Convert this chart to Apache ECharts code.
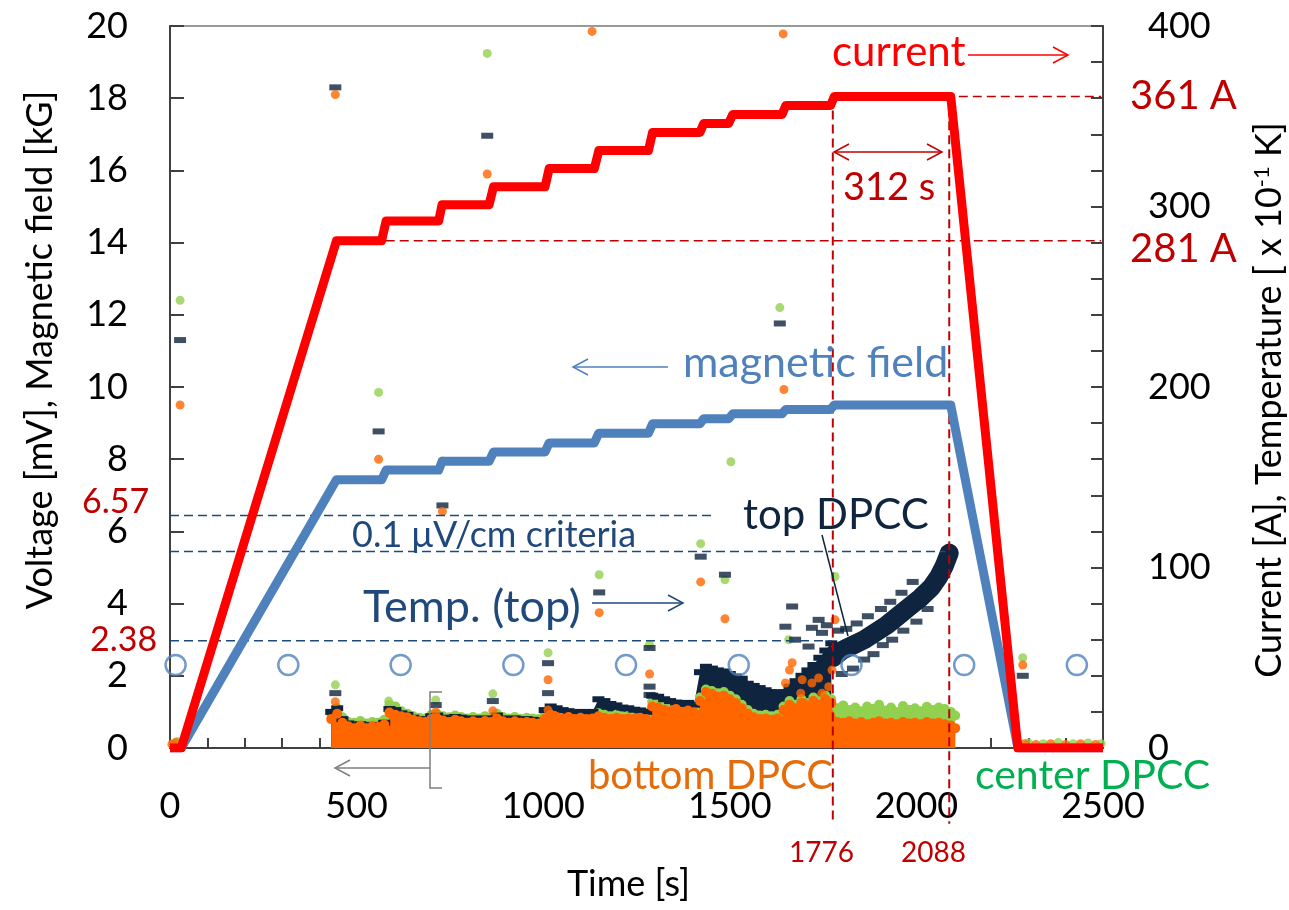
<!DOCTYPE html>
<html>
<head>
<meta charset="utf-8">
<title>DPCC excitation test</title>
<script src="https://cdn.jsdelivr.net/npm/echarts@6/dist/echarts.min.js"></script>
</head>
<body style="margin:0;background:#fff">
<div id="main" style="width:1289px;height:910px;"></div>
<script type="text/javascript">
// ---- coil current / magnetic field (staircase) ----
var timeS    = [0, 30, 446, 567, 579, 720, 729, 855, 867, 1005, 1016, 1137, 1149, 1282, 1293, 1420, 1430, 1497, 1508, 1640, 1650, 1770, 1780, 2092, 2272, 2500];
var currentA = [0, 0, 281, 281, 292, 292, 301, 301, 311, 311, 321, 321, 331, 331, 341, 341, 346, 346, 351, 351, 356, 356, 361, 361, 0, 0];
var fieldKG  = [0, 0, 7.43, 7.43, 7.70, 7.70, 7.94, 7.94, 8.20, 8.20, 8.45, 8.45, 8.72, 8.72, 8.98, 8.98, 9.12, 9.12, 9.26, 9.26, 9.38, 9.38, 9.50, 9.50, 0, 0];

// ---- temperature (top), x 0.1 K ----
var tempT = [15, 317, 618, 920, 1222, 1524, 1826, 2128, 2430];
var tempV = [46, 46, 46, 46, 46, 46, 46, 46, 46];

// ---- DPCC voltage bands (upper envelope of the dense point cloud) ----
var bandT = [432, 448, 462, 478, 494, 510, 526, 542, 558, 574,
             588, 604, 620, 636, 652, 668, 684, 700, 716, 732,
             748, 764, 780, 796, 812, 828, 844, 860, 876, 892,
             908, 924, 940, 956, 972, 988, 1004, 1020, 1036, 1052,
             1068, 1084, 1100, 1116, 1132, 1148, 1164, 1180, 1196, 1212,
             1228, 1244, 1260, 1276, 1292, 1308, 1324, 1340, 1356, 1372,
             1388, 1404, 1420, 1436, 1452, 1468, 1484, 1500, 1516, 1532,
             1548, 1564, 1580, 1596, 1612, 1628, 1644, 1660, 1676, 1692,
             1708, 1724, 1740, 1756, 1772, 1788, 1804, 1820, 1836, 1852,
             1868, 1884, 1900, 1916, 1932, 1948, 1964, 1980, 1996, 2012,
             2028, 2044, 2060, 2076, 2092, 2104];
var bottomTop = [0.80, 0.95, 0.70, 0.60, 0.55, 0.62, 0.55, 0.60, 0.58, 0.65,
                 0.98, 0.92, 0.88, 0.85, 0.78, 0.74, 0.72, 0.80, 0.82, 0.76,
                 0.72, 0.78, 0.74, 0.70, 0.74, 0.70, 0.75, 0.72, 0.82, 0.74,
                 0.70, 0.74, 0.70, 0.72, 0.70, 0.68, 0.80, 0.92, 0.86, 0.82,
                 0.86, 0.80, 0.84, 0.80, 0.82, 0.88, 0.84, 0.80, 0.84, 0.80,
                 0.82, 0.80, 0.84, 0.80, 1.15, 1.12, 1.05, 1.02, 1.08, 1.00,
                 1.04, 0.98, 1.30, 1.55, 1.50, 1.42, 1.45, 1.35, 1.25, 1.10,
                 0.95, 0.85, 0.80, 0.82, 0.78, 0.82, 1.05, 1.20, 1.10, 1.25,
                 1.15, 1.30, 1.20, 1.35, 1.25, 0.72, 0.70, 0.74, 0.68, 0.72,
                 0.66, 0.70, 0.74, 0.68, 0.70, 0.66, 0.72, 0.68, 0.70, 0.66,
                 0.72, 0.68, 0.70, 0.66, 0.62, 0.55];
var centerTop = [0.95, 1.10, 0.85, 0.72, 0.70, 0.75, 0.68, 0.72, 0.70, 0.78,
                 1.20, 1.15, 1.02, 0.95, 0.88, 0.84, 0.82, 0.92, 0.94, 0.88,
                 0.85, 0.90, 0.86, 0.82, 0.86, 0.82, 0.88, 0.84, 0.95, 0.86,
                 0.82, 0.86, 0.80, 0.84, 0.82, 0.80, 0.92, 1.00, 0.96, 0.92,
                 0.95, 0.90, 0.92, 0.88, 0.90, 0.96, 0.92, 0.88, 0.92, 0.88,
                 0.90, 0.88, 0.92, 0.88, 1.28, 1.24, 1.15, 1.12, 1.18, 1.10,
                 1.14, 1.08, 1.40, 1.62, 1.58, 1.52, 1.55, 1.45, 1.35, 1.20,
                 1.05, 0.95, 0.90, 0.92, 0.88, 0.92, 1.15, 1.30, 1.20, 1.35,
                 1.25, 1.40, 1.30, 1.45, 1.35, 1.10, 1.18, 1.05, 1.12, 1.02,
                 1.15, 1.08, 1.20, 1.04, 1.12, 1.00, 1.16, 1.06, 1.10, 1.02,
                 1.14, 1.05, 1.12, 1.08, 1.00, 0.90];
var topTop    = [1.00, 1.10, 0.80, 0.68, 0.62, 0.66, 0.60, 0.64, 0.62, 0.70,
                 1.08, 1.05, 0.96, 0.92, 0.84, 0.80, 0.78, 0.88, 0.90, 0.84,
                 0.80, 0.86, 0.84, 0.78, 0.82, 0.78, 0.82, 0.80, 0.90, 0.82,
                 0.78, 0.82, 0.78, 0.80, 0.78, 0.76, 1.05, 1.15, 1.10, 1.05,
                 1.02, 0.98, 1.00, 0.98, 1.00, 1.35, 1.30, 1.22, 1.18, 1.12,
                 1.10, 1.06, 1.04, 1.00, 1.45, 1.42, 1.35, 1.30, 1.26, 1.22,
                 1.25, 1.20, 2.10, 2.25, 2.20, 2.15, 2.12, 2.05, 1.98, 1.92,
                 1.78, 1.72, 1.66, 1.60, 1.55, 1.52, 1.55, 1.70, 1.85, 2.00,
                 2.15, 2.30, 2.50, 2.70, 2.90];

// top DPCC rising branch after the flat-top starts
var riseT = [1776, 1800, 1830, 1860, 1890, 1920, 1950, 1980, 2010, 2040, 2060, 2075, 2088];
var riseV = [2.50, 2.70, 2.85, 3.00, 3.20, 3.40, 3.65, 3.90, 4.15, 4.45, 4.75, 5.05, 5.40];

// ---- isolated points ----
var centerPts = [[8, 0.12], [20, 0.18], [27, 12.4], [443, 1.75], [559, 9.85], [586, 1.30], [712, 1.33], [730, 7.95],
                 [850, 19.24], [865, 1.50], [1013, 2.64], [1150, 4.80], [1285, 2.86], [1422, 5.66], [1487, 4.66],
                 [1503, 7.93], [1634, 12.2], [1658, 3.00], [1782, 4.75], [2285, 2.50],
                 [2300, 0.14], [2340, 0.12], [2380, 0.15], [2420, 0.12], [2460, 0.14], [2495, 0.12]];
var topPts    = [[27, 11.3], [443, 18.3], [443, 1.52], [559, 8.77], [712, 1.19], [730, 6.72], [850, 16.96], [865, 1.30],
                 [1013, 2.35], [1013, 1.52], [1150, 4.31], [1285, 2.77], [1285, 1.70], [1285, 1.47], [1422, 5.30],
                 [1487, 4.80], [1634, 11.76], [1649, 3.36], [1667, 3.92], [1675, 3.00], [1711, 2.81], [1720, 3.33],
                 [1738, 3.55], [1747, 3.19], [1760, 3.40], [2285, 2.00],
                 [1790, 3.25], [1812, 3.30], [1840, 3.45], [1800, 2.05], [1830, 2.20], [1860, 2.45], [1885, 2.60],
                 [1910, 2.85], [1935, 3.00], [1870, 3.65], [1905, 3.85], [1930, 4.05], [1960, 4.30], [1990, 4.60],
                 [1965, 3.25], [2000, 3.50], [2030, 3.85]];
var bottomPts = [[5, 0.10], [15, 0.15], [27, 9.5], [443, 18.1], [443, 1.28], [559, 8.0], [712, 1.00], [730, 6.55],
                 [850, 15.9], [865, 1.03], [1013, 1.89], [1013, 1.05], [1131, 19.85], [1150, 3.75], [1285, 2.05],
                 [1422, 4.60], [1487, 3.58], [1643, 19.78], [1645, 9.93], [1649, 1.80], [1667, 2.36], [1660, 2.16],
                 [1690, 1.52], [1694, 1.89], [1700, 1.25], [1720, 1.80], [1738, 1.94], [1747, 1.52], [1765, 1.70],
                 [1774, 2.16], [1711, 0.97], [1782, 3.55], [2285, 2.30],
                 [2290, 0.12], [2320, 0.10], [2360, 0.12], [2400, 0.10], [2440, 0.12], [2480, 0.10]];

// ---- reference lines ----
var criteriaV   = [6.44, 5.44, 2.97];
var criteriaEnd = [1452, 2078, 1774];
var holdT       = [1776, 2088];
var holdTop     = [18.05, 17.75];
var levelA      = [361, 281];
var levelStart  = [1776, 578];

function pairs(ts, vs) {
    return vs.map(function (v, i) { return [ts[i], v]; });
}

var FONT = 'Lato';
var NAVY = '#0F243E';

var series = [];

// dense bands: green behind, navy, orange in front
function band(data, color, symbol, size) {
    return {
        type: 'line', data: data, symbol: symbol, symbolSize: size, showAllSymbol: true,
        lineStyle: {opacity: 0}, itemStyle: {color: color},
        areaStyle: {color: color, opacity: 1}, silent: true, z: 2
    };
}
series.push(band(pairs(bandT, centerTop), '#92D050', 'circle', 10));
series.push(band(pairs(bandT, topTop), NAVY, 'rect', [12, 6]));
series.push(band(pairs(bandT, bottomTop), '#FF6600', 'circle', 10));

// rising top DPCC branch
series.push({
    type: 'line', data: pairs(riseT, riseV), symbol: 'none',
    lineStyle: {color: NAVY, width: 19, cap: 'round', join: 'round'}, silent: true, z: 2
});

series.push({type: 'scatter', data: centerPts, symbol: 'circle', symbolSize: 9, itemStyle: {color: '#92D050'}, silent: true, z: 3});
series.push({type: 'scatter', data: topPts, symbol: 'rect', symbolSize: [12, 6], itemStyle: {color: NAVY}, silent: true, z: 3});
series.push({type: 'scatter', data: bottomPts, symbol: 'circle', symbolSize: 9, itemStyle: {color: '#FF6600'}, silent: true, z: 3});

// criteria lines
criteriaV.forEach(function (v, i) {
    series.push({
        type: 'line', data: [[0, v], [criteriaEnd[i], v]], symbol: 'none', silent: true, z: 4,
        lineStyle: {color: '#1F497D', width: 1.5, type: [9, 5]}
    });
});
// flat-top start / end markers (run below the axis to their labels)
holdT.forEach(function (t, i) {
    series.push({
        type: 'line', data: [[t, holdTop[i]], [t, -2.1]], symbol: 'none', silent: true, clip: false, z: 4,
        lineStyle: {color: '#C00000', width: 2, type: [9, 5]}
    });
});
levelA.forEach(function (a, i) {
    series.push({
        type: 'line', yAxisIndex: 1, data: [[levelStart[i], a], [2495, a]], symbol: 'none', silent: true, z: 4,
        lineStyle: {color: '#C00000', width: 1.5, type: [9, 5]}
    });
});

// temperature
series.push({
    type: 'scatter', yAxisIndex: 1, data: pairs(tempT, tempV), symbol: 'circle', symbolSize: 20,
    itemStyle: {color: 'rgba(0,0,0,0)', borderColor: '#4F81BD', borderWidth: 2.5}, silent: true, z: 5
});

// magnetic field and current
series.push({
    type: 'line', data: pairs(timeS, fieldKG), symbol: 'none', silent: true, z: 6,
    lineStyle: {color: '#4F81BD', width: 9, join: 'round'}
});
series.push({
    type: 'line', yAxisIndex: 1, data: pairs(timeS, currentA), symbol: 'none', silent: true, z: 7,
    lineStyle: {color: '#FF0000', width: 9, join: 'round'}
});

// ---- annotations ----
function arrow(x1, y1, x2, y2, color, w, both) {
    var dx = x2 - x1, dy = y2 - y1, len = Math.sqrt(dx * dx + dy * dy);
    var ux = dx / len, uy = dy / len, nx = -uy, ny = ux, L = 15, W = 8;
    var els = [{type: 'line', shape: {x1: x1, y1: y1, x2: x2, y2: y2}, style: {stroke: color, lineWidth: w}}];
    els.push({type: 'polyline', shape: {points: [[x2 - ux * L + nx * W, y2 - uy * L + ny * W], [x2, y2], [x2 - ux * L - nx * W, y2 - uy * L - ny * W]]},
              style: {stroke: color, lineWidth: w, fill: null}});
    if (both) {
        els.push({type: 'polyline', shape: {points: [[x1 + ux * L + nx * W, y1 + uy * L + ny * W], [x1, y1], [x1 + ux * L - nx * W, y1 + uy * L - ny * W]]},
                  style: {stroke: color, lineWidth: w, fill: null}});
    }
    return els;
}
function label(text, x, y, size, color, align) {
    return {type: 'text', x: x, y: y, style: {text: text, fontFamily: FONT, fontSize: size, fill: color,
            align: align || 'left', verticalAlign: 'middle'}};
}

var graphics = [].concat(
    [label('current', 832, 52, 42, '#FF0000')],
    arrow(968, 55, 1068, 55, '#FF0000', 1.5),
    [label('361 A', 1130, 96, 40, '#C00000'), label('281 A', 1130, 249, 40, '#C00000')],
    [label('312 s', 843, 188, 38, '#C00000')],
    arrow(834, 152, 942, 152, '#C00000', 1.5, true),
    [label('magnetic field', 683, 363, 43, '#4F81BD')],
    arrow(668, 367, 573, 367, '#4F81BD', 1.5),
    [label('0.1 \u03bcV/cm criteria', 352, 535, 36, '#1F497D')],
    [label('Temp. (top)', 363, 607, 45, '#1F497D')],
    arrow(592, 603, 683, 603, '#1F497D', 1.5),
    [label('top DPCC', 743, 515, 42, '#0F243E')],
    [{type: 'line', shape: {x1: 822, y1: 535, x2: 848, y2: 636}, style: {stroke: '#0F243E', lineWidth: 1.5}}],
    [label('bottom DPCC', 833, 776, 40, '#E46C0A', 'right'), label('center DPCC', 975, 776, 41, '#00B050')],
    [label('6.57', 82, 502, 34, '#C00000'), label('2.38', 90, 640, 34, '#C00000')],
    [label('1776', 789, 853, 28, '#C00000'), label('2088', 901, 853, 28, '#C00000')],
    [{type: 'polyline', shape: {points: [[442, 692], [430, 692], [430, 788], [442, 788]]}, style: {stroke: '#7F7F7F', lineWidth: 1.5, fill: null}}],
    arrow(430, 768, 335, 768, '#7F7F7F', 1.5)
);
graphics.forEach(function (g) { g.z = 100; g.silent = true; });

var axisLabelStyle = {fontFamily: FONT, fontSize: 36, color: '#000'};

var option = {
    animation: false,
    backgroundColor: '#fff',
    grid: {left: 170, right: 186, top: 26, bottom: 162, show: true, borderColor: '#999', borderWidth: 2, outerBoundsMode: 'none'},
    xAxis: {
        type: 'value', min: 0, max: 2500, interval: 500,
        name: 'Time [s]', nameLocation: 'middle', nameGap: 118,
        nameTextStyle: {fontFamily: FONT, fontSize: 36, color: '#000', padding: [0, 16, 0, 0]},
        axisLine: {lineStyle: {color: '#404040', width: 2}},
        axisTick: {inside: true, length: 10, lineStyle: {color: '#404040', width: 2}},
        minorTick: {show: true, splitNumber: 5, length: 10, lineStyle: {color: '#404040', width: 2}},
        splitLine: {show: false},
        axisLabel: Object.assign({margin: 40, formatter: function (v) { return String(v); }}, axisLabelStyle)
    },
    yAxis: [{
        type: 'value', min: 0, max: 20, interval: 2, position: 'left',
        name: 'Voltage [mV], Magnetic field [kG]', nameLocation: 'middle', nameGap: 112, nameRotate: 90,
        nameTextStyle: {fontFamily: FONT, fontSize: 36, color: '#000', padding: [0, 0, 0, 74]},
        axisLine: {show: true, lineStyle: {color: '#404040', width: 2}},
        axisTick: {show: true, inside: true, length: 14, lineStyle: {color: '#404040', width: 2}},
        splitLine: {show: false},
        axisLabel: Object.assign({margin: 42}, axisLabelStyle)
    }, {
        type: 'value', min: 0, max: 400, interval: 100, position: 'right',
        name: 'Current [A], Temperature [ x 10{sup|-1} K]', nameLocation: 'middle', nameGap: 148, nameRotate: 90,
        nameTextStyle: {fontFamily: FONT, fontSize: 36, color: '#000', padding: [0, 26, 0, 0],
                        rich: {sup: {fontFamily: FONT, fontSize: 22, color: '#000', verticalAlign: 'top'}}},
        axisLine: {show: true, lineStyle: {color: '#404040', width: 2}},
        axisTick: {show: true, inside: true, length: 12, lineStyle: {color: '#404040', width: 2}},
        minorTick: {show: true, splitNumber: 5, length: 12, lineStyle: {color: '#404040', width: 2}},
        splitLine: {show: false},
        axisLabel: Object.assign({margin: 45}, axisLabelStyle)
    }],
    series: series,
    graphic: graphics
};

var myChart = echarts.init(document.getElementById('main'));
myChart.setOption(option);
</script>
</body>
</html>
